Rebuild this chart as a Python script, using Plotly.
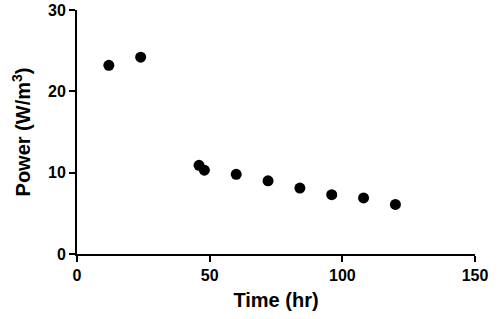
import plotly.graph_objects as go

# data
time_hr = [12, 24, 46, 48, 60, 72, 84, 96, 108, 120]
power = [23.2, 24.2, 10.9, 10.3, 9.8, 9.0, 8.1, 7.3, 6.9, 6.1]
x_ticks = [0, 50, 100, 150]
y_ticks = [0, 10, 20, 30]

fig = go.Figure(go.Scatter(
    x=time_hr, y=power, mode='markers',
    marker=dict(color='black', size=11),
    showlegend=False,
    cliponaxis=False
))

fam = 'Liberation Sans, Arial, sans-serif'
tick_font = dict(family=fam, size=16, color='black', weight='bold')
title_font = dict(family=fam, size=20, color='black', weight='bold')

fig.update_layout(
    width=500, height=319,
    margin=dict(l=77, r=25, t=10, b=65, autoexpand=False),
    plot_bgcolor='white', paper_bgcolor='white',
    font=tick_font,
    xaxis=dict(
        range=[0, 150], tickvals=x_ticks, showgrid=False, zeroline=False,
        showline=True, linecolor='black', linewidth=2,
        ticks='outside', ticklen=6, tickwidth=2, tickcolor='black',
        tickfont=tick_font, ticklabeloverflow='allow', automargin=False,
        title=dict(text='Time (hr)', font=title_font, standoff=10)
    ),
    yaxis=dict(
        range=[0, 30], tickvals=y_ticks, showgrid=False, zeroline=False,
        showline=True, linecolor='black', linewidth=2,
        ticks='outside', ticklen=6, tickwidth=2, tickcolor='black',
        tickfont=tick_font, ticklabeloverflow='allow', automargin=False,
        title=dict(text='Power (W/m<sup>3</sup>)', font=title_font, standoff=12)
    ),
)

# drop the default 8px page margin so the figure sits at the window corner
fig.write_html("out.html", config={'displayModeBar': False},
               post_script="document.body.style.margin='0';")
